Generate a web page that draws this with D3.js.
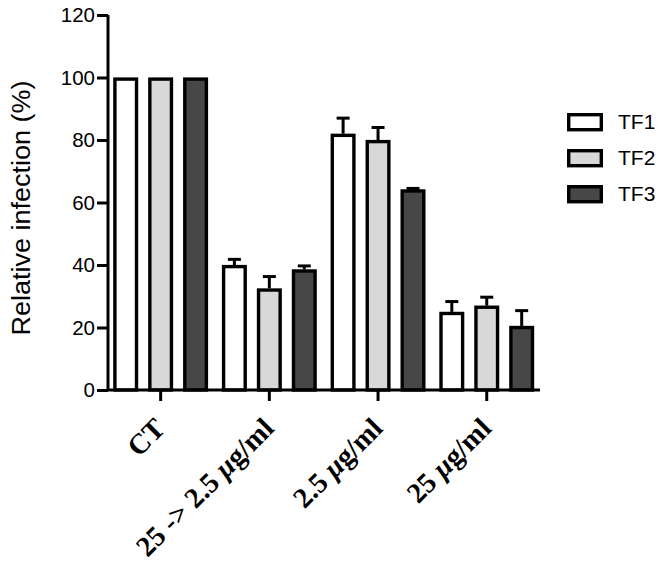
<!DOCTYPE html>
<html><head><meta charset="utf-8">
<script src="https://cdn.jsdelivr.net/npm/d3@7"></script>
<style>body{margin:0;background:#fff}</style>
</head><body>
<svg id="c" width="666" height="569"></svg>
<script>
const categories = ["CT", "25 -> 2.5 μg/ml", "2.5 μg/ml", "25 μg/ml"];
const seriesNames = ["TF1", "TF2", "TF3"];
const tf1 = [100, 40, 82, 25];
const tf2 = [100, 32.5, 80, 27];
const tf3 = [100, 38.6, 64.2, 20.5];
const tf1Err = [0, 1.8, 5, 3.3];
const tf2Err = [0, 3.8, 4, 2.7];
const tf3Err = [0, 1.1, 0.3, 4.9];
const yTicks = [0, 20, 40, 60, 80, 100, 120];
const fills = ["#ffffff", "#d8d8d8", "#474747"];

const values = [tf1, tf2, tf3];
const errs = [tf1Err, tf2Err, tf3Err];

const svg = d3.select("#c");
const y = d3.scaleLinear().domain([0, 120]).range([390, 15]);
const x0 = d3.scaleBand().domain(categories).range([106.3, 541.1]).paddingInner(0).paddingOuter(0);
const x1 = d3.scaleBand().domain(seriesNames).range([7, 101.7]).paddingInner(0.29).paddingOuter(0.0);

const data = [];
categories.forEach((c, i) => seriesNames.forEach((s, j) => data.push({c, s, j, v: values[j][i], e: errs[j][i]})));

const g = svg.append("g");
data.filter(d => d.e > 0).forEach(d => {
  const cx = x0(d.c) + x1(d.s) + x1.bandwidth() / 2;
  g.append("line").attr("x1", cx).attr("x2", cx).attr("y1", y(d.v)).attr("y2", y(d.v + d.e))
    .attr("stroke", "#000").attr("stroke-width", 3);
  g.append("line").attr("x1", cx - 6.5).attr("x2", cx + 6.5).attr("y1", y(d.v + d.e)).attr("y2", y(d.v + d.e))
    .attr("stroke", "#000").attr("stroke-width", 3);
});
g.selectAll("rect.bar").data(data).join("rect").attr("class", "bar")
  .attr("x", d => x0(d.c) + x1(d.s) + 1.6)
  .attr("width", x1.bandwidth() - 3.2)
  .attr("y", d => y(d.v) + 1.6)
  .attr("height", d => y(0) - y(d.v) - 1.6)
  .attr("fill", d => fills[d.j]).attr("stroke", "#000").attr("stroke-width", 3.4);

// y axis
const yAxis = svg.append("g").attr("transform", "translate(108,0)")
  .call(d3.axisLeft(y).tickValues(yTicks).tickSize(11).tickPadding(2));
yAxis.select(".domain").attr("stroke-width", 3).attr("d", "M0,15V390");
yAxis.selectAll(".tick line").attr("stroke-width", 3);
yAxis.selectAll(".tick text").attr("font-family", "Arial, 'Liberation Sans', sans-serif")
  .attr("font-size", 20.5).attr("fill", "#000");

// x axis
const xAxis = svg.append("g").attr("transform", "translate(0,390)")
  .call(d3.axisBottom(x0).tickSize(11).tickFormat(""));
xAxis.select(".domain").attr("stroke-width", 3).attr("d", "M108,0H540");
xAxis.selectAll(".tick line").attr("stroke-width", 3);

// x labels
categories.forEach(c => {
  const cx = x0(c) + x0.bandwidth() / 2;
  const t = svg.append("text")
    .attr("transform", `translate(${cx + 6},${430}) rotate(-45)`)
    .attr("text-anchor", "end")
    .attr("font-family", "'Liberation Serif', 'Times New Roman', serif")
    .attr("font-weight", "bold").attr("font-size", 28.5).attr("fill", "#000");
  const parts = c.split("μ");
  t.append("tspan").text(parts[0]);
  if (parts.length > 1) {
    t.append("tspan").attr("font-style", "italic").text("μ");
    t.append("tspan").text(parts[1]);
  }
});

// y label
svg.append("text").attr("transform", "translate(30,208) rotate(-90)")
  .attr("text-anchor", "middle")
  .attr("font-family", "Arial, 'Liberation Sans', sans-serif").attr("font-size", 25)
  .attr("textLength", 255).attr("lengthAdjust", "spacingAndGlyphs")
  .text("Relative infection (%)");

// legend
const leg = svg.append("g").attr("transform", "translate(567,113)");
seriesNames.forEach((s, j) => {
  const r = leg.append("g").attr("transform", `translate(0,${j * 36})`);
  r.append("rect").attr("x", 1.7).attr("y", 1.7).attr("width", 32.6).attr("height", 15)
    .attr("fill", fills[j]).attr("stroke", "#000").attr("stroke-width", 3.4);
  r.append("text").attr("x", 51).attr("y", 9).attr("dy", "0.35em")
    .attr("font-family", "Arial, 'Liberation Sans', sans-serif").attr("font-size", 21).text(s);
});
</script>
</body></html>
